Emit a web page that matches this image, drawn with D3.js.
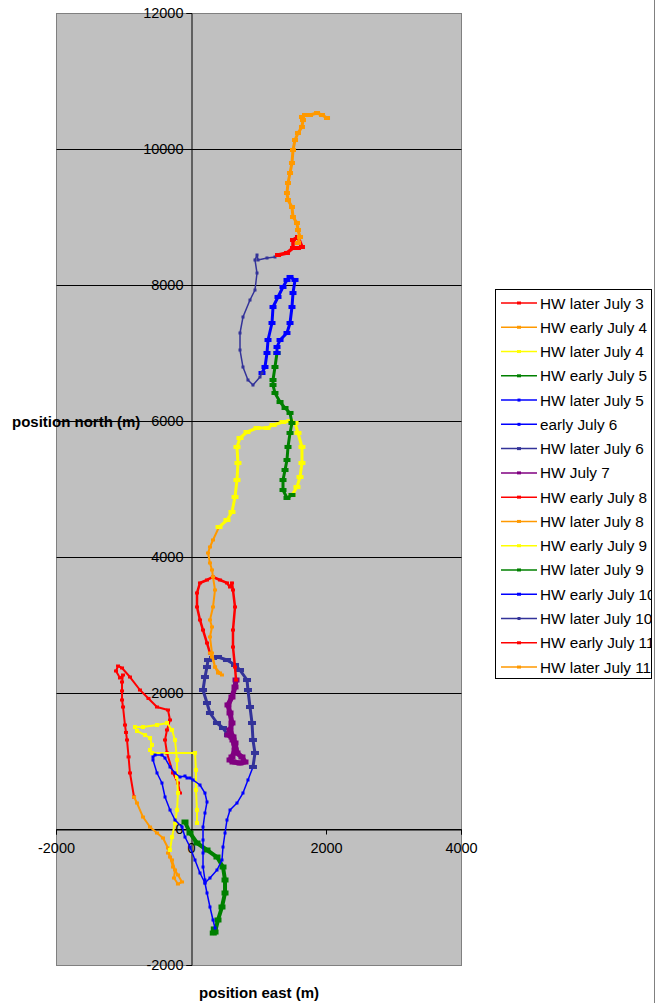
<!DOCTYPE html>
<html>
<head>
<meta charset="utf-8">
<script src="https://cdn.jsdelivr.net/npm/d3@7"></script>
<style>
  html, body { margin: 0; padding: 0; background: #fff; }
  svg { display: block; font-family: "Liberation Sans", Arial, sans-serif; }
</style>
</head>
<body>
<svg id="chart" width="655" height="1003"></svg>
<script>
// Track positions (east, north) in metres for each recording segment
const laterJuly3 = [[-163,529],[-193,676],[-267,824],[-356,1118],[-385,1309],[-356,1456],[-311,1603],[-341,1750],[-504,1794],[-630,1920],[-756,2044],[-904,2235],[-1022,2368],[-1081,2397],[-1111,2324],[-1052,2221],[-1007,2265],[-1022,2162],[-1022,2030],[-1022,1897],[-1007,1794],[-978,1529],[-963,1420],[-948,1309],[-925,1060],[-904,824],[-844,471]];
const earlyJuly4 = [[-844,471],[-800,382],[-711,176],[-607,29],[-504,-59],[-415,-132],[-341,-279],[-311,-412],[-267,-559],[-193,-676],[-133,-779],[-193,-809],[-252,-721],[-237,-603],[-281,-456],[-341,-353],[-311,-309]];
const laterJuly4 = [[-311,-309],[-281,-118],[-237,88],[-207,279],[-193,529],[-207,765],[-207,1015],[-237,1309],[-281,1456],[-356,1559],[-504,1529],[-711,1500],[-830,1500],[-800,1441],[-681,1382],[-607,1338],[-578,1235],[-607,1162],[-578,1118],[59,1118],[74,868],[74,574],[89,279],[89,88]];
const earlyJuly5 = [[-89,103],[-15,-59],[89,-206],[237,-309],[385,-412],[474,-559],[504,-750],[504,-941],[459,-1147],[400,-1338],[356,-1515],[330,-1530],[345,-1470]];
const laterJuly5 = [[356,-1456],[326,-1338],[281,-1147],[237,-941],[207,-794],[133,-647],[59,-456],[-15,-265],[-89,-118],[-133,29],[-237,132],[-311,279],[-385,471],[-430,676],[-504,824],[-563,1015],[-563,1059],[-533,1088],[-430,1088],[-385,1044],[-311,912],[-237,824],[-163,765],[-89,779],[-59,750],[-15,750],[30,721],[133,647],[207,529],[237,397],[207,235],[178,29],[178,-162],[178,-353],[178,-559],[207,-750]];
const earlyJuly6 = [[207,-794],[281,-721],[385,-603],[459,-456],[474,-265],[504,-59],[533,132],[578,279],[681,382],[770,529],[844,721],[918,912]];
const laterJuly6 = [[918,912],[948,1118],[918,1309],[904,1559],[874,1794],[844,2044],[830,2191],[726,2338],[652,2412],[533,2485],[400,2529],[326,2515],[252,2485],[237,2382],[207,2235],[178,2044],[237,1853],[281,1706],[385,1559],[474,1485],[548,1382]];
const july7 = [[548,1382],[607,1353],[622,1309],[652,1162],[607,1059],[578,1015],[622,985],[726,971],[800,985],[755,1059],[681,1118],[652,1265],[622,1353],[578,1456],[607,1559],[578,1706],[548,1824],[607,1941],[652,2088],[667,2191]];
const earlyJuly8 = [[667,2191],[652,2382],[622,2676],[622,2926],[652,3265],[622,3515],[607,3618],[578,3559],[533,3618],[430,3662],[326,3706],[237,3662],[133,3618],[89,3471],[89,3265],[133,3074],[178,2926],[237,2735],[281,2588]];
const laterJuly8 = [[281,2588],[311,2529],[356,2382],[430,2294],[459,2265],[400,2294],[356,2382],[311,2588],[281,2824],[311,2971],[281,3074],[326,3265],[356,3515],[326,3706],[311,3809],[281,3912],[252,4059],[281,4147],[326,4250],[415,4441]];
const earlyJuly9 = [[415,4441],[533,4544],[607,4662],[652,4882],[681,5132],[696,5382],[681,5618],[726,5750],[830,5838],[978,5897],[1126,5897],[1215,5941],[1363,5985],[1467,6000],[1541,5971],[1585,5824],[1644,5618],[1644,5382],[1615,5176],[1570,5029],[1496,4912]];
const laterJuly9 = [[1496,4912],[1422,4868],[1363,4985],[1363,5132],[1393,5279],[1422,5426],[1437,5618],[1467,5824],[1496,5971],[1467,6118],[1393,6191],[1319,6279],[1244,6412],[1215,6529],[1215,6603],[1244,6794],[1274,7000]];
const earlyJuly10 = [[1274,7000],[1274,7088],[1319,7191],[1422,7294],[1467,7441],[1496,7676],[1511,7882],[1541,8074],[1467,8118],[1422,8074],[1363,7971],[1289,7824],[1215,7676],[1200,7441],[1141,7191],[1126,7000],[1096,6794],[1052,6706]];
const laterJuly10 = [[1052,6706],[1022,6647],[918,6529],[844,6603],[770,6794],[726,7044],[726,7294],[770,7529],[874,7779],[948,7926],[978,8176],[948,8368],[978,8441],[993,8368],[1126,8397],[1244,8412],[1289,8441]];
const earlyJuly11 = [[1289,8441],[1422,8471],[1511,8544],[1511,8662],[1585,8706],[1644,8559],[1585,8544]];
const laterJuly11 = [[1585,8618],[1615,8706],[1585,8809],[1570,8912],[1511,9000],[1496,9147],[1437,9250],[1422,9353],[1437,9500],[1467,9647],[1496,9794],[1511,9985],[1541,10132],[1585,10235],[1644,10324],[1659,10426],[1644,10471],[1689,10500],[1763,10500],[1867,10529],[1941,10500],[2015,10456]];

const seriesNames = ["HW later July 3","HW early July 4","HW later July 4","HW early July 5","HW later July 5","early July 6","HW later July 6","HW July 7","HW early July 8","HW later July 8","HW early July 9","HW later July 9","HW early July 10","HW later July 10","HW early July 11","HW later July 11"];
const seriesData = [laterJuly3, earlyJuly4, laterJuly4, earlyJuly5, laterJuly5, earlyJuly6, laterJuly6, july7, earlyJuly8, laterJuly8, earlyJuly9, laterJuly9, earlyJuly10, laterJuly10, earlyJuly11, laterJuly11];

const xTicks = [-2000, 0, 2000, 4000];
const yTicks = [-2000, 0, 2000, 4000, 6000, 8000, 10000, 12000];

// Drawing styles: line colour, line width, marker width/height
const styles = [
  {c:"#FF0000", lw:2,   mw:4, mh:3},
  {c:"#FF9900", lw:2,   mw:4, mh:3},
  {c:"#FFFF00", lw:2,   mw:4, mh:4},
  {c:"#008000", lw:4,   mw:7, mh:5},
  {c:"#0000FF", lw:1.5, mw:3, mh:3},
  {c:"#0000FF", lw:1.5, mw:3, mh:3},
  {c:"#333399", lw:3,   mw:8, mh:4},
  {c:"#800080", lw:5,   mw:7, mh:5},
  {c:"#FF0000", lw:2.5, mw:4, mh:3},
  {c:"#FF9900", lw:2,   mw:4, mh:3},
  {c:"#FFFF00", lw:3,   mw:7, mh:4},
  {c:"#008000", lw:3,   mw:7, mh:4},
  {c:"#0000FF", lw:3,   mw:7, mh:4},
  {c:"#333399", lw:1.5, mw:3, mh:3},
  {c:"#FF0000", lw:3.5, mw:6, mh:4},
  {c:"#FF9900", lw:3,   mw:6, mh:4}
];

const svg = d3.select("#chart");
const plot = {left: 56, right: 461, top: 13, bottom: 965};

const x = d3.scaleLinear().domain([-2000, 4000]).range([plot.left, plot.right]);
const y = d3.scaleLinear().domain([-2000, 12000]).range([plot.bottom, plot.top]);

// Plot area
svg.append("rect")
  .attr("x", plot.left + 0.5).attr("y", plot.top + 0.5)
  .attr("width", plot.right - plot.left).attr("height", plot.bottom - plot.top)
  .attr("fill", "#C0C0C0").attr("stroke", "#808080").attr("stroke-width", 1);

// Horizontal gridlines
svg.append("g").selectAll("line")
  .data(yTicks.filter(t => t > -2000 && t < 12000))
  .join("line")
  .attr("x1", plot.left + 0.5).attr("x2", plot.right + 0.5)
  .attr("y1", d => Math.round(y(d)) + 0.5).attr("y2", d => Math.round(y(d)) + 0.5)
  .attr("stroke", "#000").attr("stroke-width", 1);

// Axes crossing at the origin
const plain = d => String(d);
const yAxis = d3.axisLeft(y).tickValues(yTicks).tickSize(5).tickPadding(3).tickFormat(plain);
const gy = svg.append("g").attr("transform", `translate(${Math.round(x(0)) + 0.5},0)`).call(yAxis);
gy.select(".domain").attr("stroke", "#000");
gy.selectAll(".tick line").attr("stroke", "#000");
gy.selectAll("text").attr("font-size", "14.5px").attr("fill", "#000")
  .attr("font-family", "'Liberation Sans', Arial, sans-serif");

const xAxis = d3.axisBottom(x).tickValues(xTicks).tickSize(5).tickPadding(8).tickFormat(plain);
const gx = svg.append("g").attr("transform", `translate(0,${Math.round(y(0)) + 0.5})`).call(xAxis);
gx.select(".domain").attr("stroke", "#000");
gx.selectAll(".tick line").attr("stroke", "#000");
gx.selectAll("text").attr("font-size", "14.5px").attr("fill", "#000")
  .attr("font-family", "'Liberation Sans', Arial, sans-serif");

// Tracks
svg.append("clipPath").attr("id", "plotClip").append("rect")
  .attr("x", plot.left).attr("y", plot.top)
  .attr("width", plot.right - plot.left).attr("height", plot.bottom - plot.top);

const line = d3.line().x(d => x(d[0])).y(d => y(d[1]));
const tracks = svg.append("g").attr("clip-path", "url(#plotClip)");

seriesData.forEach((pts, i) => {
  const s = styles[i];
  const g = tracks.append("g");
  g.append("path").attr("d", line(pts))
    .attr("fill", "none").attr("stroke", s.c).attr("stroke-width", s.lw)
    .attr("stroke-linejoin", "round").attr("stroke-linecap", "round");
  g.selectAll("rect").data(pts).join("rect")
    .attr("x", d => x(d[0]) - s.mw / 2).attr("y", d => y(d[1]) - s.mh / 2)
    .attr("width", s.mw).attr("height", s.mh).attr("fill", s.c);
});

// Axis titles
svg.append("text").attr("x", 12).attr("y", 427)
  .attr("font-size", "15px").attr("font-weight", "bold").text("position north (m)");
svg.append("text").attr("x", 259).attr("y", 998).attr("text-anchor", "middle")
  .attr("font-size", "15px").attr("font-weight", "bold").text("position east (m)");

// Legend
const legend = {x: 495, y: 289, w: 156, h: 389, row0: 303, step: 24.27};
svg.append("clipPath").attr("id", "legendClip").append("rect")
  .attr("x", legend.x).attr("y", legend.y).attr("width", legend.w).attr("height", legend.h);
svg.append("rect")
  .attr("x", legend.x + 0.5).attr("y", legend.y + 0.5)
  .attr("width", legend.w).attr("height", legend.h)
  .attr("fill", "#fff").attr("stroke", "#000").attr("stroke-width", 1);
const lg = svg.append("g").attr("clip-path", "url(#legendClip)");
seriesNames.forEach((name, i) => {
  const s = styles[i];
  const yy = legend.row0 + i * legend.step;
  lg.append("line").attr("x1", 501).attr("x2", 537).attr("y1", yy).attr("y2", yy)
    .attr("stroke", s.c).attr("stroke-width", 1.5);
  lg.append("rect").attr("x", 519 - Math.min(s.mw, 4) / 2).attr("y", yy - Math.min(s.mh, 3) / 2)
    .attr("width", Math.min(s.mw, 4)).attr("height", Math.min(s.mh, 3)).attr("fill", s.c);
  lg.append("text").attr("x", 540).attr("y", yy).attr("dy", "0.36em")
    .attr("font-size", "15.3px").attr("fill", "#000").text(name);
});

// Outer chart border on the right
svg.append("line").attr("x1", 654.5).attr("x2", 654.5).attr("y1", 0).attr("y2", 1003)
  .attr("stroke", "#808080").attr("stroke-width", 1);
</script>
</body>
</html>
